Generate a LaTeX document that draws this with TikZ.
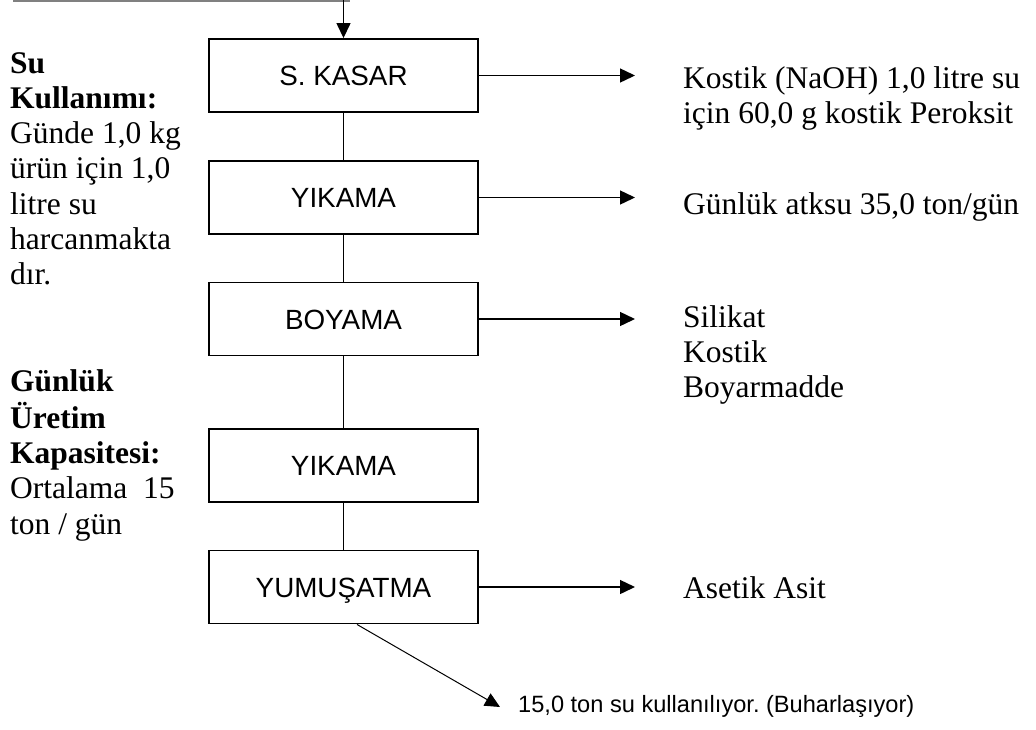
\documentclass[tikz,border=0pt]{standalone}
\usepackage{fontspec}
\setmainfont{Liberation Serif}
\setsansfont{Liberation Sans}
\usepackage{tikz}
\usetikzlibrary{calc}
\usetikzlibrary{arrows.meta}
\usetikzlibrary{positioning}
\frenchspacing
\newcommand{\satirlar}[1]{\begin{tabular}[t]{@{}l@{}}#1\end{tabular}}

\begin{document}
\begin{tikzpicture}[x=1pt,y=-1pt,
    islem/.style={draw, line width=1.9pt, minimum width=269pt, minimum height=73pt, inner sep=0pt,
      text height=20pt, text depth=0pt, font=\sffamily\fontsize{27.8}{32}\selectfont},
    akis/.style={line width=1.4pt},
    cikis/.style={line width=1.4pt, -{Triangle[length=15pt,width=14pt]}},
    yazi/.style={anchor=base west, inner sep=0pt, font=\fontsize{31.5}{35.3}\selectfont}]
  \useasboundingbox (0,0) rectangle (1036,729);
  \node[islem] (kasar) at (343.5,75.5) {S. KASAR};
  \node[islem] (yikama) at (343.5,197.5) {YIKAMA};
  \node[islem] (boyama) at (343.5,319) {BOYAMA};
  \node[islem] (yikamaiki) at (343.5,465.5) {YIKAMA};
  \node[islem] (yumusatma) at (343.5,587) {YUMUŞATMA};
  \coordinate (hatsol) at (13,1);
  \coordinate (hatsag) at (350,1);
  \coordinate (besleme) at (343.5,0);
  \coordinate (uc) at (635,0);
  \coordinate (buhar) at (500,707);
  \draw[gray, line width=1.5pt] (hatsol) -- (hatsag);
  \draw[cikis] (besleme) -- (kasar.north);
  \draw[akis] (kasar) -- (yikama) -- (boyama) -- (yikamaiki) -- (yumusatma);
  \draw[cikis] (kasar.east) -- (kasar.east -| uc);
  \draw[cikis] (yikama.east) -- (yikama.east -| uc);
  \draw[cikis] (boyama.east) -- (boyama.east -| uc);
  \draw[cikis] (yumusatma.east) -- (yumusatma.east -| uc);
  \draw[cikis, line width=1pt] ([xshift=13.5pt]yumusatma.south) -- (buhar);
  \node[yazi] (kostik) at (683,88) {\satirlar{Kostik (NaOH) 1,0 litre su\\ için 60,0 g kostik Peroksit}};
  \node[yazi] (atiksu) at (683,214) {Günlük atksu 35,0 ton/gün};
  \node[yazi] (silikat) at (683,327) {\satirlar{Silikat\\ Kostik\\ Boyarmadde}};
  \node[yazi] (asetik) at (683,598) {Asetik Asit};
  \node[yazi, font=\sffamily\fontsize{23.6}{26}\selectfont] (buharyazi) at (518,712) {15,0 ton su kullanılıyor. (Buharlaşıyor)};
  \node[yazi] (sukullanimi) at (10,73) {\satirlar{\textbf{Su}\\ \textbf{Kullanımı:}\\ Günde 1,0 kg\\ ürün için 1,0\\ litre su\\ harcanmakta\\ dır.}};
  \node[yazi] (kapasite) at (10,391.5) {\satirlar{\textbf{Günlük}\\ \textbf{Üretim}\\ \textbf{Kapasitesi:}\\ Ortalama\ \ 15\\ ton / gün}};
\end{tikzpicture}
\end{document}
